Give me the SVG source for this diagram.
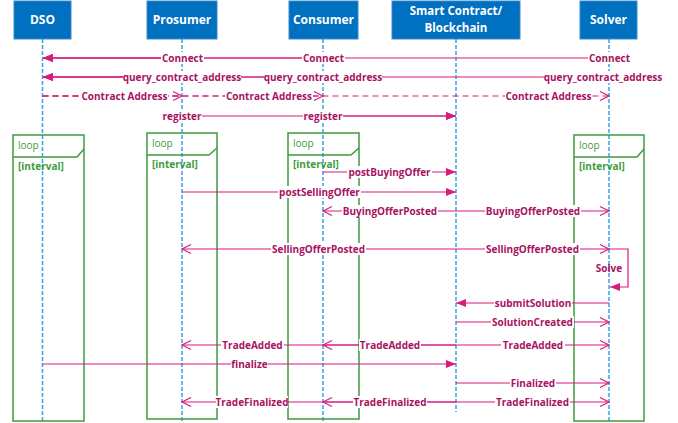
<svg xmlns="http://www.w3.org/2000/svg" width="678" height="423" viewBox="0 0 678 423">
<defs>
<style>
.hdr{fill:#0070c0;stroke:#3c88cc;stroke-width:1}
.hdrt{font-family:"Open Sans","Noto Sans",sans-serif;font-weight:700;font-size:12px;fill:#ffffff;text-anchor:middle}
.hdrs{font-family:"Open Sans","Noto Sans",sans-serif;font-weight:700;font-size:11.5px;fill:#ffffff;text-anchor:middle}
.life{stroke:#3aa3e3;stroke-width:1.5;stroke-dasharray:4 2;fill:none}
.loop{fill:none;stroke:#3c9c3c;stroke-width:1.5}
.loopt{font-family:"Open Sans","Noto Sans",sans-serif;font-size:10px;fill:#3c9c3c}
.guard{font-family:"Open Sans","Noto Sans",sans-serif;font-size:10px;font-weight:700;fill:#3c9c3c}
.msg{stroke:#d81b7c;stroke-width:1.2;fill:none}
.sync{marker-end:url(#af)}
.ret{marker-end:url(#ao)}
.dash{stroke-dasharray:6 4}
.bg{fill:#ffffff}
.lbl{font-family:"Open Sans","Noto Sans",sans-serif;font-size:10px;font-weight:700;fill:#a8125f;text-anchor:middle}
</style>
<marker id="af" markerUnits="userSpaceOnUse" markerWidth="12" markerHeight="10" refX="10" refY="5" orient="auto">
<path d="M0,1 L10,5 L0,9 Z" fill="#d81b7c"/>
</marker>
<marker id="ao" markerUnits="userSpaceOnUse" markerWidth="12" markerHeight="12" refX="10" refY="6" orient="auto">
<path d="M1,1.5 L10,6 L1,10.5" fill="none" stroke="#d81b7c" stroke-width="1.2"/>
</marker>
</defs>
<rect width="678" height="423" fill="#ffffff"/>

<g id="lifelines">
<line class="life" x1="42.5" y1="39" x2="42.5" y2="423"/>
<line class="life" x1="182" y1="39" x2="182" y2="423"/>
<line class="life" x1="323" y1="39" x2="323" y2="423"/>
<line class="life" x1="456" y1="39" x2="456" y2="412"/>
<line class="life" x1="609" y1="39" x2="609" y2="423"/>
</g>

<g id="DSO">
<rect class="hdr" x="14" y="1" width="57" height="38"/>
<text class="hdrt" x="42.5" y="24">DSO</text>
</g>
<g id="Prosumer">
<rect class="hdr" x="147" y="1" width="70" height="38"/>
<text class="hdrt" x="182" y="24">Prosumer</text>
</g>
<g id="Consumer">
<rect class="hdr" x="289" y="1" width="69" height="38"/>
<text class="hdrt" x="323.5" y="24">Consumer</text>
</g>
<g id="SmartContract">
<rect class="hdr" x="392" y="1" width="128" height="38"/>
<text class="hdrs" x="456" y="15">Smart Contract/</text>
<text class="hdrs" x="456" y="32">Blockchain</text>
</g>
<g id="Solver">
<rect class="hdr" x="580" y="1" width="57" height="38"/>
<text class="hdrt" x="608.5" y="24">Solver</text>
</g>

<g id="loop-dso">
<rect class="loop" x="13" y="135" width="71" height="286"/>
<path class="loop" d="M13,157 H77 L84,149"/>
<text class="loopt" x="18" y="149">loop</text>
<text class="guard" x="18" y="170">[interval]</text>
</g>
<g id="loop-prosumer">
<rect class="loop" x="147" y="133" width="70" height="286"/>
<path class="loop" d="M147,155 H209 L217,148"/>
<text class="loopt" x="152" y="147">loop</text>
<text class="guard" x="152" y="168">[interval]</text>
</g>
<g id="loop-consumer">
<rect class="loop" x="288" y="133" width="71" height="286"/>
<path class="loop" d="M288,155 H351 L359,148"/>
<text class="loopt" x="293" y="147">loop</text>
<text class="guard" x="293" y="168">[interval]</text>
</g>
<g id="loop-solver">
<rect class="loop" x="574" y="135" width="70" height="286"/>
<path class="loop" d="M574,157 H637 L644,149"/>
<text class="loopt" x="579" y="149">loop</text>
<text class="guard" x="579" y="170">[interval]</text>
</g>

<g id="connectors">
<line class="msg sync" x1="182" y1="58" x2="43" y2="58"/>
<line class="msg sync" x1="323" y1="58" x2="43" y2="58"/>
<line class="msg sync" x1="609" y1="58" x2="43" y2="58"/>
<line class="msg sync" x1="182" y1="77" x2="43" y2="77"/>
<line class="msg sync" x1="323" y1="77" x2="43" y2="77"/>
<line class="msg sync" x1="609" y1="77" x2="43" y2="77"/>
<line class="msg ret dash" x1="42.5" y1="96" x2="182" y2="96"/>
<line class="msg ret dash" x1="42.5" y1="96" x2="323" y2="96"/>
<line class="msg ret dash" x1="42.5" y1="96" x2="609" y2="96"/>
<line class="msg sync" x1="182" y1="116" x2="456" y2="116"/>
<line class="msg sync" x1="323" y1="116" x2="456" y2="116"/>
<line class="msg sync" x1="323" y1="172" x2="456" y2="172"/>
<line class="msg sync" x1="182" y1="192" x2="456" y2="192"/>
<line class="msg ret" x1="456" y1="211" x2="323" y2="211"/>
<line class="msg ret" x1="456" y1="211" x2="609" y2="211"/>
<line class="msg ret" x1="456" y1="249" x2="182" y2="249"/>
<line class="msg ret" x1="456" y1="249" x2="609" y2="249"/>
<path class="msg sync" d="M609,249 H628 V287 H610"/>
<line class="msg sync" x1="609" y1="303" x2="456" y2="303"/>
<line class="msg ret" x1="456" y1="322" x2="609" y2="322"/>
<line class="msg ret" x1="456" y1="345" x2="182" y2="345"/>
<line class="msg ret" x1="456" y1="345" x2="323" y2="345"/>
<line class="msg ret" x1="456" y1="345" x2="609" y2="345"/>
<line class="msg sync" x1="42.5" y1="364" x2="456" y2="364"/>
<line class="msg ret" x1="456" y1="383" x2="609" y2="383"/>
<line class="msg ret" x1="456" y1="402" x2="182" y2="402"/>
<line class="msg ret" x1="456" y1="402" x2="323" y2="402"/>
<line class="msg ret" x1="456" y1="402" x2="609" y2="402"/>
</g>

<g id="labels">
<rect class="bg" x="161" y="52" width="43" height="12"/><text class="lbl" x="182.5" y="61.5">Connect</text>
<rect class="bg" x="302" y="52" width="43" height="12"/><text class="lbl" x="323.5" y="61.5">Connect</text>
<rect class="bg" x="588" y="52" width="43" height="12"/><text class="lbl" x="609.5" y="61.5">Connect</text>
<rect class="bg" x="123" y="71" width="118" height="12"/><text class="lbl" x="182" y="80.5">query_contract_address</text>
<rect class="bg" x="264" y="71" width="118" height="12"/><text class="lbl" x="323" y="80.5">query_contract_address</text>
<rect class="bg" x="544" y="71" width="118" height="12"/><text class="lbl" x="603" y="80.5">query_contract_address</text>
<rect class="bg" x="81" y="90" width="87" height="12"/><text class="lbl" x="124.5" y="99.5">Contract Address</text>
<rect class="bg" x="225" y="90" width="88" height="12"/><text class="lbl" x="269" y="99.5">Contract Address</text>
<rect class="bg" x="505" y="90" width="87" height="12"/><text class="lbl" x="548.5" y="99.5">Contract Address</text>
<rect class="bg" x="162" y="110" width="40" height="12"/><text class="lbl" x="182" y="119.5">register</text>
<rect class="bg" x="303" y="110" width="40" height="12"/><text class="lbl" x="323" y="119.5">register</text>
<rect class="bg" x="347" y="166" width="85" height="12"/><text class="lbl" x="389.5" y="175.5">postBuyingOffer</text>
<rect class="bg" x="278" y="186" width="83" height="12"/><text class="lbl" x="319.5" y="195.5">postSellingOffer</text>
<rect class="bg" x="342" y="205" width="96" height="12"/><text class="lbl" x="390" y="214.5">BuyingOfferPosted</text>
<rect class="bg" x="485" y="205" width="96" height="12"/><text class="lbl" x="533" y="214.5">BuyingOfferPosted</text>
<rect class="bg" x="271" y="243" width="95" height="12"/><text class="lbl" x="318.5" y="252.5">SellingOfferPosted</text>
<rect class="bg" x="485" y="243" width="95" height="12"/><text class="lbl" x="532.5" y="252.5">SellingOfferPosted</text>
<text class="lbl" x="609" y="271.5">Solve</text>
<rect class="bg" x="494" y="297" width="78" height="12"/><text class="lbl" x="533" y="306.5">submitSolution</text>
<rect class="bg" x="491" y="316" width="83" height="12"/><text class="lbl" x="532.5" y="325.5">SolutionCreated</text>
<rect class="bg" x="221" y="339" width="63" height="12"/><text class="lbl" x="252.5" y="348.5">TradeAdded</text>
<rect class="bg" x="359" y="339" width="62" height="12"/><text class="lbl" x="390" y="348.5">TradeAdded</text>
<rect class="bg" x="501" y="339" width="64" height="12"/><text class="lbl" x="533" y="348.5">TradeAdded</text>
<rect class="bg" x="231" y="358" width="37" height="12"/><text class="lbl" x="249.5" y="367.5">finalize</text>
<rect class="bg" x="510" y="377" width="46" height="12"/><text class="lbl" x="533" y="386.5">Finalized</text>
<rect class="bg" x="216" y="396" width="72" height="12"/><text class="lbl" x="252" y="405.5">TradeFinalized</text>
<rect class="bg" x="353" y="396" width="74" height="12"/><text class="lbl" x="390" y="405.5">TradeFinalized</text>
<rect class="bg" x="495" y="396" width="75" height="12"/><text class="lbl" x="532.5" y="405.5">TradeFinalized</text>
</g>
</svg>
